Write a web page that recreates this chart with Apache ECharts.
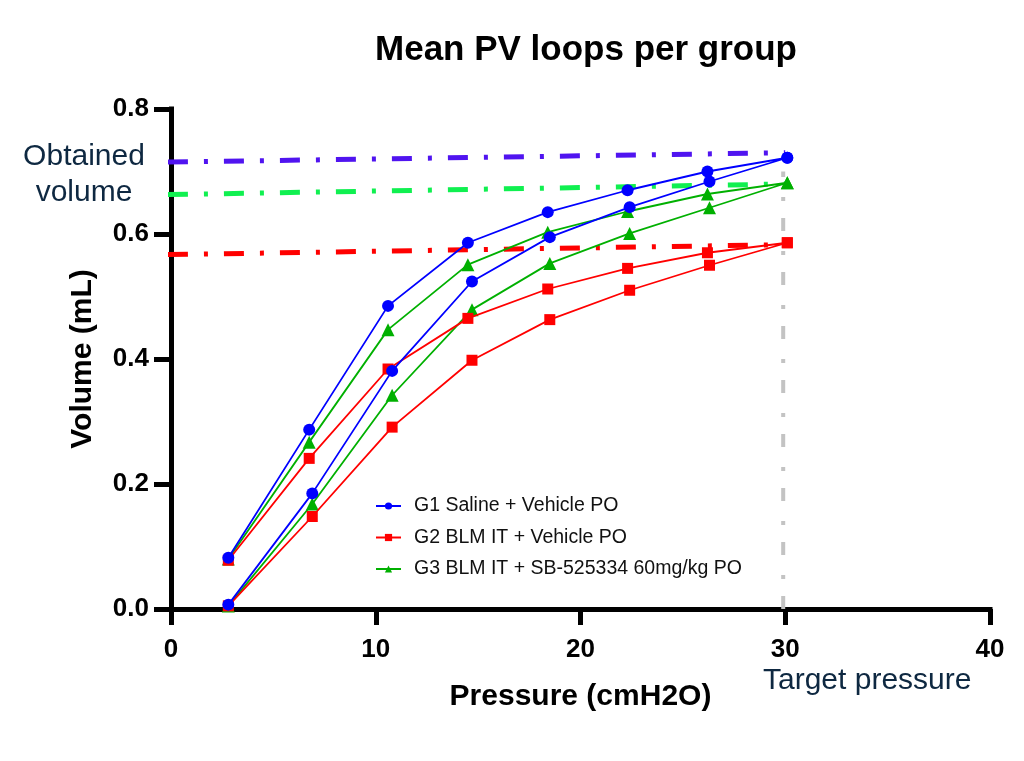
<!DOCTYPE html>
<html>
<head>
<meta charset="utf-8">
<script src="https://cdn.jsdelivr.net/npm/echarts@6/dist/echarts.min.js"></script>
<style>
  html, body { margin: 0; padding: 0; background: #fff; }
  #chart { width: 1024px; height: 761px; }
</style>
</head>
<body>
<div id="chart"></div>
<script>
// pressure (cmH2O) for inflation and deflation limbs
const inflationPressure = [2.8, 6.9, 10.8, 14.7, 18.5, 22.4, 26.3, 30.1]
const deflationPressure = [30.1, 26.2, 22.3, 18.4, 14.5, 10.6, 6.75, 2.8]

// volume (mL) per group
const g1Inflation = [0.007, 0.185, 0.381, 0.524, 0.595, 0.643, 0.684, 0.722]
const g1Deflation = [0.722, 0.700, 0.670, 0.635, 0.586, 0.485, 0.287, 0.082]
const g2Inflation = [0.005, 0.148, 0.291, 0.398, 0.463, 0.510, 0.550, 0.586]
const g2Deflation = [0.586, 0.570, 0.545, 0.512, 0.465, 0.384, 0.241, 0.078]
const g3Inflation = [0.005, 0.168, 0.342, 0.479, 0.553, 0.601, 0.642, 0.682]
const g3Deflation = [0.682, 0.664, 0.636, 0.603, 0.551, 0.447, 0.267, 0.080]

const groupNames = [
  'G1 Saline + Vehicle PO',
  'G2 BLM IT + Vehicle PO',
  'G3 BLM IT + SB-525334 60mg/kg PO'
]

// obtained volume guide lines (start / end)
const obtainedPressure = [-0.15, 30]
const obtainedG1 = [0.715, 0.730]
const obtainedG2 = [0.567, 0.583]
const obtainedG3 = [0.663, 0.680]

// target pressure guide
const targetPressure = 29.9
const targetVolume = [0, 0.7]

const xTicks = { min: 0, max: 40, interval: 10 }
const yTicks = { min: 0, max: 0.8, interval: 0.2 }

const FONT = 'Arial, "Liberation Sans", sans-serif'
const NAVY = '#0e2841'

function loop(inflation, deflation) {
  let pts = inflationPressure.map((p, i) => [p, inflation[i]])
  return pts.concat(deflationPressure.map((p, i) => [p, deflation[i]]))
}

function pairs(xs, ys) {
  return xs.map((x, i) => [x, ys[i]])
}

function guide(name, data, color, width, dash) {
  return {
    name: name,
    type: 'line',
    data: data,
    symbol: 'none',
    clip: false,
    silent: true,
    z: 1,
    lineStyle: { color: color, width: width, type: dash }
  }
}

function group(name, data, color, symbol, size, z) {
  return {
    name: name,
    type: 'line',
    data: data,
    symbol: symbol,
    symbolSize: size,
    z: z,
    itemStyle: { color: color },
    lineStyle: { color: color, width: 1.8 }
  }
}

let myChart = echarts.init(document.getElementById('chart'))
myChart.setOption({
  animation: false,
  backgroundColor: '#fff',
  title: {
    text: 'Mean PV loops per group',
    left: 581,
    top: 28,
    textAlign: 'center',
    textStyle: { fontFamily: FONT, fontSize: 35, fontWeight: 'bold', color: '#000' }
  },
  grid: { left: 171, right: 34, top: 109, bottom: 152 },
  legend: {
    data: groupNames,
    orient: 'vertical',
    left: 370,
    top: 491,
    itemWidth: 25,
    itemHeight: 9,
    itemGap: 11.5,
    textStyle: { fontFamily: FONT, fontSize: 19.5, color: '#111', padding: [0, 0, 0, 8] }
  },
  xAxis: {
    type: 'value',
    min: xTicks.min,
    max: xTicks.max,
    interval: xTicks.interval,
    name: 'Pressure (cmH2O)',
    nameLocation: 'middle',
    nameGap: 73,
    nameTextStyle: { fontFamily: FONT, fontSize: 30, fontWeight: 'bold', color: '#000' },
    splitLine: { show: false },
    axisLine: { lineStyle: { color: '#000', width: 5, cap: 'square' } },
    axisTick: { length: 16, lineStyle: { color: '#000', width: 5 } },
    axisLabel: { margin: 28, fontFamily: FONT, fontSize: 26, fontWeight: 'bold', color: '#000' }
  },
  yAxis: {
    type: 'value',
    min: yTicks.min,
    max: yTicks.max,
    interval: yTicks.interval,
    name: 'Volume (mL)',
    nameLocation: 'middle',
    nameGap: 73,
    nameTextStyle: { fontFamily: FONT, fontSize: 30, fontWeight: 'bold', color: '#000' },
    splitLine: { show: false },
    axisLine: { lineStyle: { color: '#000', width: 5, cap: 'square' } },
    axisTick: { length: 17, lineStyle: { color: '#000', width: 5 } },
    axisLabel: {
      margin: 22,
      fontFamily: FONT,
      fontSize: 26,
      fontWeight: 'bold',
      color: '#000',
      formatter: v => v.toFixed(1)
    }
  },
  graphic: [
    {
      type: 'text',
      x: 84,
      y: 175,
      style: {
        text: 'Obtained\nvolume',
        font: '30px ' + FONT,
        fill: NAVY,
        align: 'center',
        verticalAlign: 'middle',
        lineHeight: 36
      }
    },
    {
      type: 'text',
      x: 763,
      y: 681,
      style: {
        text: 'Target pressure',
        font: '30px ' + FONT,
        fill: NAVY,
        verticalAlign: 'middle'
      }
    }
  ],
  series: [
    guide('obtained G1', pairs(obtainedPressure, obtainedG1), '#5014f0', 5, [20, 16, 4, 16]),
    guide('obtained G3', pairs(obtainedPressure, obtainedG3), '#10f050', 5, [20, 16, 4, 16]),
    guide('obtained G2', pairs(obtainedPressure, obtainedG2), '#ff0000', 5, [20, 16, 4, 16]),
    guide('target', targetVolume.map(v => [targetPressure, v]), '#c3c3c3', 4, [13, 17, 4, 20]),
    group(groupNames[0], loop(g1Inflation, g1Deflation), '#0000ff', 'circle', 12, 5),
    group(groupNames[1], loop(g2Inflation, g2Deflation), '#ff0000', 'rect', 11, 4),
    group(groupNames[2], loop(g3Inflation, g3Deflation), '#00b000', 'triangle', 13, 3)
  ]
})
</script>
</body>
</html>
